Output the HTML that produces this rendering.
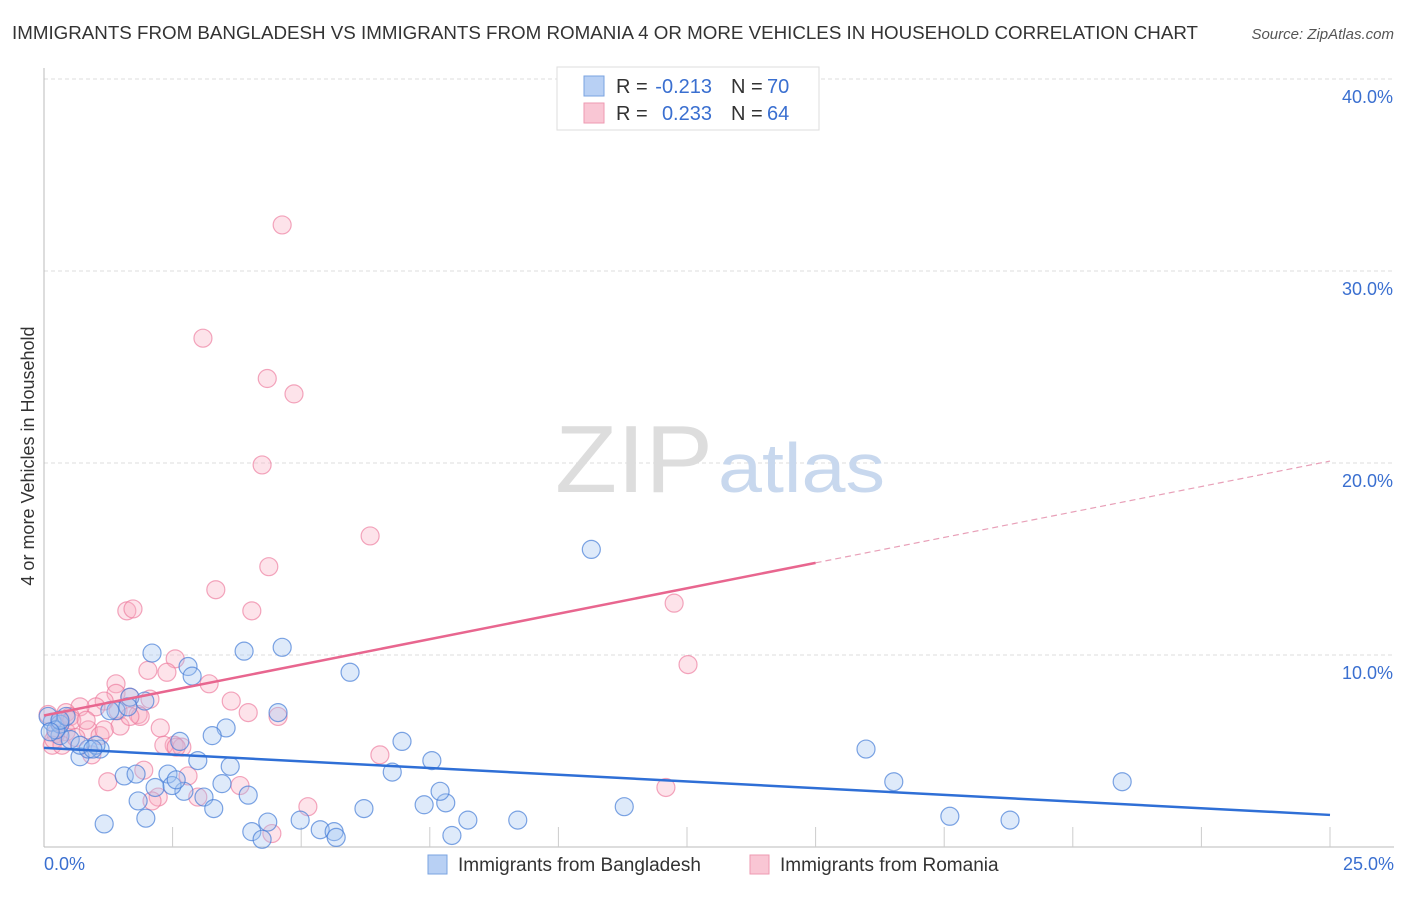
<!DOCTYPE html>
<html><head><meta charset="utf-8"><style>
body{margin:0;background:#fff;font-family:"Liberation Sans",sans-serif;}
svg text{font-family:"Liberation Sans",sans-serif;}
</style></head><body>
<svg id="chart" width="1406" height="892" xmlns="http://www.w3.org/2000/svg">
<text x="12" y="39" font-size="18" fill="#333" textLength="1186" lengthAdjust="spacingAndGlyphs">IMMIGRANTS FROM BANGLADESH VS IMMIGRANTS FROM ROMANIA 4 OR MORE VEHICLES IN HOUSEHOLD CORRELATION CHART</text>
<text x="1394" y="39" font-size="15" fill="#555" font-style="italic" text-anchor="end">Source: ZipAtlas.com</text>
<text transform="translate(34,456) rotate(-90)" font-size="18" fill="#333" text-anchor="middle">4 or more Vehicles in Household</text>
<g id="grid"></g>
<text x="555" y="492" font-size="96" fill="#ddd" font-family="Liberation Serif" textLength="158" lengthAdjust="spacingAndGlyphs">ZIP</text>
<text x="718" y="492" font-size="70" fill="#c8d8ee" textLength="167" lengthAdjust="spacingAndGlyphs">atlas</text>
<g id="points"></g>
<g id="lines"></g>
<g>
<rect x="557" y="67" width="262" height="63" fill="#fff" stroke="#ddd"/>
<rect x="584" y="76" width="20" height="20" fill="#b8d0f4" stroke="#7aa3e0"/>
<rect x="584" y="103" width="20" height="20" fill="#f9c6d4" stroke="#ee9ab2"/>
<text x="616" y="93" font-size="20" fill="#333">R =</text>
<text x="712" y="93" font-size="20" fill="#3a6fd0" text-anchor="end">-0.213</text>
<text x="731" y="93" font-size="20" fill="#333">N =</text>
<text x="767" y="93" font-size="20" fill="#3a6fd0">70</text>
<text x="616" y="120" font-size="20" fill="#333">R =</text>
<text x="712" y="120" font-size="20" fill="#3a6fd0" text-anchor="end">0.233</text>
<text x="731" y="120" font-size="20" fill="#333">N =</text>
<text x="767" y="120" font-size="20" fill="#3a6fd0">64</text>
</g>
<g>
<rect x="428" y="855" width="19" height="19" fill="#b8d0f4" stroke="#7aa3e0"/>
<text x="458" y="871" font-size="19" fill="#333">Immigrants from Bangladesh</text>
<rect x="750" y="855" width="19" height="19" fill="#f9c6d4" stroke="#ee9ab2"/>
<text x="780" y="871" font-size="19" fill="#333">Immigrants from Romania</text>
</g>
<text x="44" y="870" font-size="18" fill="#3a6fd0">0.0%</text>
<text x="1394" y="870" font-size="18" fill="#3a6fd0" text-anchor="end">25.0%</text>
</svg>
<script>
const yTicks=[10,20,30,40];
const yTickLabels=["10.0%","20.0%","30.0%","40.0%"];
const xTicks=[2.5,5,7.5,10,12.5,15,17.5,20,22.5,25];
const blueX=[10.64,4.63,3.89,2.10,2.80,2.88,5.95,1.67,1.96,4.55,3.54,3.27,2.64,6.96,15.98,7.54,2.99,0.70,1.09,0.86,0.16,0.31,0.51,1.01,3.62,6.77,1.56,1.79,2.41,16.52,20.96,2.16,2.72,2.49,3.46,3.97,1.83,3.11,3.30,6.22,7.39,7.81,11.28,7.70,1.98,1.17,4.98,8.24,9.21,17.61,18.78,4.04,4.35,5.37,5.64,5.68,7.93,4.24,0.31,0.08,0.23,0.43,1.40,1.63,2.57,0.31,0.70,0.95,1.28,0.12];
const blueY=[15.5,10.4,10.2,10.1,9.4,8.9,9.1,7.8,7.6,7.0,6.2,5.8,5.5,5.5,5.1,4.5,4.5,4.7,5.1,5.1,6.5,5.8,5.6,5.3,4.2,3.9,3.7,3.8,3.8,3.4,3.4,3.1,2.9,3.2,3.3,2.7,2.4,2.6,2.0,2.0,2.2,2.3,2.1,2.9,1.5,1.2,1.4,1.4,1.4,1.6,1.4,0.8,1.3,0.9,0.8,0.5,0.6,0.4,6.4,6.8,6.1,6.8,7.1,7.3,3.5,6.6,5.3,5.1,7.1,6.0];
const pinkX=[4.63,3.09,4.34,4.86,4.24,6.34,4.37,3.34,4.04,1.61,1.73,12.25,2.55,2.02,2.39,12.52,3.21,1.40,1.40,1.67,2.06,3.64,3.97,1.17,1.01,0.70,0.43,0.51,4.55,1.83,1.87,1.48,2.26,0.86,1.09,0.23,0.16,0.31,0.43,2.53,2.33,2.68,0.93,6.53,2.80,1.24,1.94,3.81,2.99,2.22,5.13,2.10,12.09,4.43,0.08,0.19,0.54,0.35,0.62,0.82,1.17,1.44,1.67,2.57];
const pinkY=[32.4,26.5,24.4,23.6,19.9,16.2,14.6,13.4,12.3,12.3,12.4,12.7,9.8,9.2,9.1,9.5,8.5,8.5,8.0,7.8,7.7,7.6,7.0,7.6,7.3,7.3,7.0,6.8,6.8,6.9,6.8,6.3,6.2,6.1,5.8,5.9,5.3,6.5,6.0,5.3,5.3,5.2,4.8,4.8,3.7,3.4,4.0,3.2,2.6,2.6,2.1,2.4,3.1,0.7,6.9,5.6,6.6,5.3,5.7,6.6,6.1,7.1,6.8,5.2];
const blueTrend=[5.16,1.67];
const pinkTrend=[6.85,20.1];
const pinkSolidEnd=15;
const NS="http://www.w3.org/2000/svg";
function sx(v){return 44+v/25*1286;}
function sy(v){return 847-v*19.2;}
function mk(t,a,p){const e=document.createElementNS(NS,t);for(const k in a)e.setAttribute(k,a[k]);p.appendChild(e);return e;}
const grid=document.getElementById('grid');
yTicks.forEach((t,i)=>{
 const l=mk('line',{x1:44,x2:1394,y1:sy(t),y2:sy(t),stroke:'#ddd','stroke-dasharray':'4,3'},grid);
 
 
 const tx=mk('text',{x:1393,y:sy(t)+24,'font-size':18,fill:'#3a6fd0','text-anchor':'end'},grid);
 tx.textContent=yTickLabels[i];
 
 
});
const ax=mk('line',{x1:44,x2:44,y1:68,y2:847,stroke:'#bbb'},grid);


const bx=mk('line',{x1:44,x2:1394,y1:847,y2:847,stroke:'#bbb'},grid);


xTicks.forEach(t=>{
 const l=mk('line',{x1:sx(t),x2:sx(t),y1:827,y2:847,stroke:'#ccc'},grid);
 
 
});
const pts=document.getElementById('points');
pinkX.forEach((x,i)=>{
 const c=mk('circle',{cx:sx(x),cy:sy(pinkY[i]),r:9,fill:'rgba(248,175,195,0.35)',stroke:'rgba(236,120,155,0.65)','stroke-width':1.2},pts);
 
 
});
blueX.forEach((x,i)=>{
 const c=mk('circle',{cx:sx(x),cy:sy(blueY[i]),r:9,fill:'rgba(160,195,240,0.35)',stroke:'rgba(70,125,215,0.7)','stroke-width':1.2},pts);
 
 
});
const ln=document.getElementById('lines');
const b=mk('line',{x1:sx(0),y1:sy(blueTrend[0]),x2:sx(25),y2:sy(blueTrend[1]),stroke:'#2f6fd6','stroke-width':2.5},ln);


const pm=pinkTrend[0]+(pinkTrend[1]-pinkTrend[0])*pinkSolidEnd/25;
const p1=mk('line',{x1:sx(0),y1:sy(pinkTrend[0]),x2:sx(pinkSolidEnd),y2:sy(pm),stroke:'#e8668f','stroke-width':2.5},ln);


const p2=mk('line',{x1:sx(pinkSolidEnd),y1:sy(pm),x2:sx(25),y2:sy(pinkTrend[1]),stroke:'#e8a0b8','stroke-width':1.2,'stroke-dasharray':'6,4'},ln);


</script>
</body></html>
